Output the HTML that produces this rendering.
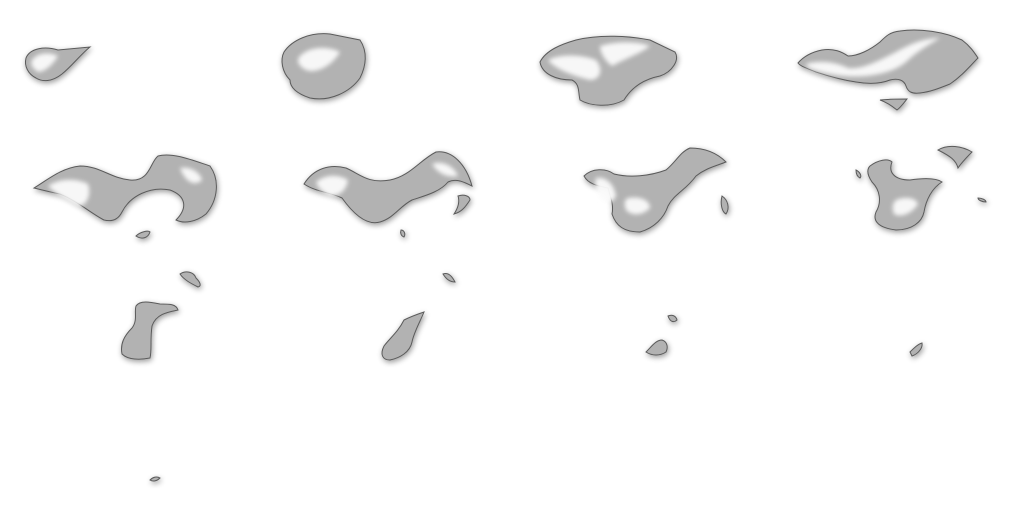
<!DOCTYPE html>
<html><head><meta charset="utf-8"><style>
html,body{margin:0;padding:0;background:#fff;width:1024px;height:512px;overflow:hidden}
svg{display:block}
</style></head><body>
<svg width="1024" height="512" viewBox="0 0 1024 512">
<defs>
<filter id="sh" x="-20%" y="-20%" width="140%" height="140%">
<feGaussianBlur in="SourceAlpha" stdDeviation="3"/><feOffset dx="1" dy="2"/>
<feComponentTransfer><feFuncA type="linear" slope="0.4"/></feComponentTransfer>
<feMerge><feMergeNode/><feMergeNode in="SourceGraphic"/></feMerge></filter>
<filter id="hb"><feGaussianBlur stdDeviation="2"/></filter>
</defs>
<g fill="#b2b2b2" stroke="#5a5a5a" stroke-width="1" filter="url(#sh)">
<path d="M26 58 C30 48 45 46 58 50 L90 47 C80 55 72 66 62 74 C52 82 42 82 36 78 C28 74 24 66 26 58Z"/>
<path d="M284 52 C292 40 310 32 330 34 L360 40 C368 52 366 66 360 78 C350 92 330 102 310 98 C298 94 290 88 290 80 C282 72 280 60 284 52Z"/>
<path d="M540 62 C546 50 562 44 576 40 C600 34 630 36 650 40 L675 52 C680 60 672 72 660 76 C640 80 630 90 624 100 C610 108 590 106 580 100 C578 92 580 84 572 80 C556 80 542 74 540 62Z"/>
<path d="M798 63 C804 56 812 52 822 50 C834 48 842 52 848 56 C858 56 870 50 880 42 C886 36 890 32 900 31 C920 28 945 32 962 40 C970 46 974 52 978 58 C970 66 962 76 950 84 C940 88 930 92 920 93 C912 94 908 92 906 86 C904 80 898 78 890 80 C880 84 868 84 856 82 C842 80 828 76 816 72 C806 68 800 66 798 63Z"/>
<path d="M880 100 C888 99 900 99 907 99 C903 104 900 108 897 110 C892 106 886 102 880 100Z"/>
<path d="M34 188 C50 178 62 168 80 166 C100 166 110 178 130 180 C150 182 150 162 158 156 C172 152 192 160 210 166 C220 180 218 200 206 214 C196 222 184 224 176 220 C188 208 186 196 170 190 C150 186 130 196 122 212 C118 220 112 222 104 220 C92 214 76 200 60 194 C50 192 42 190 34 188Z"/>
<path d="M136 236 C140 232 148 230 150 232 C148 238 142 240 136 236Z"/>
<path d="M304 184 C314 168 330 164 346 168 C360 174 368 184 390 180 C410 176 420 160 436 152 C452 150 466 164 472 186 C464 182 456 178 448 182 C440 192 424 196 412 200 C400 206 394 218 380 222 C366 226 352 212 342 198 C330 192 316 192 304 184Z"/>
<path d="M458 196 C464 194 470 196 470 200 C466 206 462 212 454 214 C458 208 460 202 458 196Z"/>
<path d="M401 230 C404 230 406 234 404 237 C401 236 400 233 401 230Z"/>
<path d="M584 176 C592 168 606 168 614 174 C630 178 650 176 666 170 C676 162 680 152 690 148 C704 148 716 152 726 162 C716 166 706 168 696 176 C686 190 674 194 668 206 C664 218 654 228 640 232 C624 232 616 226 612 214 C614 204 610 196 608 188 C598 186 588 184 584 176Z"/>
<path d="M722 196 C728 200 730 208 726 214 C722 212 720 204 722 196Z"/>
<path d="M870 166 C878 160 888 158 892 162 C888 172 894 180 910 180 C924 178 936 178 942 182 C932 188 926 200 924 212 C922 222 912 230 896 230 C880 228 872 222 876 212 C882 202 880 190 872 182 C868 176 866 170 870 166Z"/>
<path d="M938 150 C948 144 962 146 972 152 C966 158 962 162 958 168 C956 160 950 156 938 150Z"/>
<path d="M856 170 C860 172 862 176 860 178 C856 176 856 172 856 170Z"/>
<path d="M978 198 C982 198 986 200 986 202 C982 202 978 200 978 198Z"/>
<path d="M136 306 C140 300 150 302 160 304 C170 304 176 304 178 310 C168 312 156 314 152 326 C150 340 152 350 150 358 C140 360 128 360 122 354 C120 344 124 336 132 328 C138 320 134 312 136 306Z"/>
<path d="M180 274 C186 270 194 272 196 278 C200 282 202 286 198 287 C192 284 184 280 180 274Z"/>
<path d="M404 320 C412 316 418 314 424 312 C420 322 414 332 412 342 C410 352 400 358 390 360 C382 360 380 354 384 346 C390 338 398 332 404 320Z"/>
<path d="M443 274 C448 272 452 276 455 282 C450 282 446 279 443 274Z"/>
<path d="M646 352 C652 346 656 340 662 340 C668 342 668 348 666 352 C660 356 652 356 646 352Z"/>
<path d="M668 316 C672 314 676 316 677 320 C674 323 670 322 668 316Z"/>
<path d="M910 352 C914 348 918 344 922 343 C923 348 918 354 912 356 Z"/>
<path d="M150 480 C153 477 157 476 160 478 C157 481 153 482 150 480Z"/>
</g>
<g fill="#fbfbfb" opacity="0.95" filter="url(#hb)">
<path d="M32 60 C38 52 50 52 58 56 C52 66 44 72 38 72 C32 68 30 64 32 60Z"/>
<path d="M300 56 C310 46 328 46 340 52 C332 66 316 74 306 70 C298 66 296 60 300 56Z"/>
<path d="M548 60 C560 54 580 54 596 60 C604 70 600 80 590 80 C574 76 556 70 548 60Z"/>
<path d="M600 46 C620 40 640 42 650 46 C640 54 626 58 612 66 C604 60 600 52 600 46Z"/>
<path d="M806 64 C820 60 836 62 848 68 C862 70 880 60 896 52 C910 44 924 38 940 38 C930 44 916 52 906 62 C896 70 884 74 866 76 C846 78 826 74 814 70 C808 68 806 66 806 64Z"/>
<path d="M48 186 C60 178 76 178 88 184 C92 196 86 206 78 206 C66 200 56 194 48 186Z"/>
<path d="M180 168 C190 166 200 172 202 180 C196 186 186 184 180 168Z"/>
<path d="M316 182 C326 174 338 174 348 180 C346 192 338 196 330 196 C322 192 318 188 316 182Z"/>
<path d="M432 164 C442 160 454 166 458 176 C448 178 438 174 432 164Z"/>
<path d="M596 178 C606 176 614 184 616 196 C612 204 606 204 600 198 C596 190 594 184 596 178Z"/>
<path d="M628 198 C640 196 650 200 650 208 C642 216 632 216 626 210 C624 204 624 200 628 198Z"/>
<path d="M896 200 C906 196 916 198 918 204 C912 214 900 218 894 214 C892 208 892 204 896 200Z"/>
</g>
</svg>
</body></html>
